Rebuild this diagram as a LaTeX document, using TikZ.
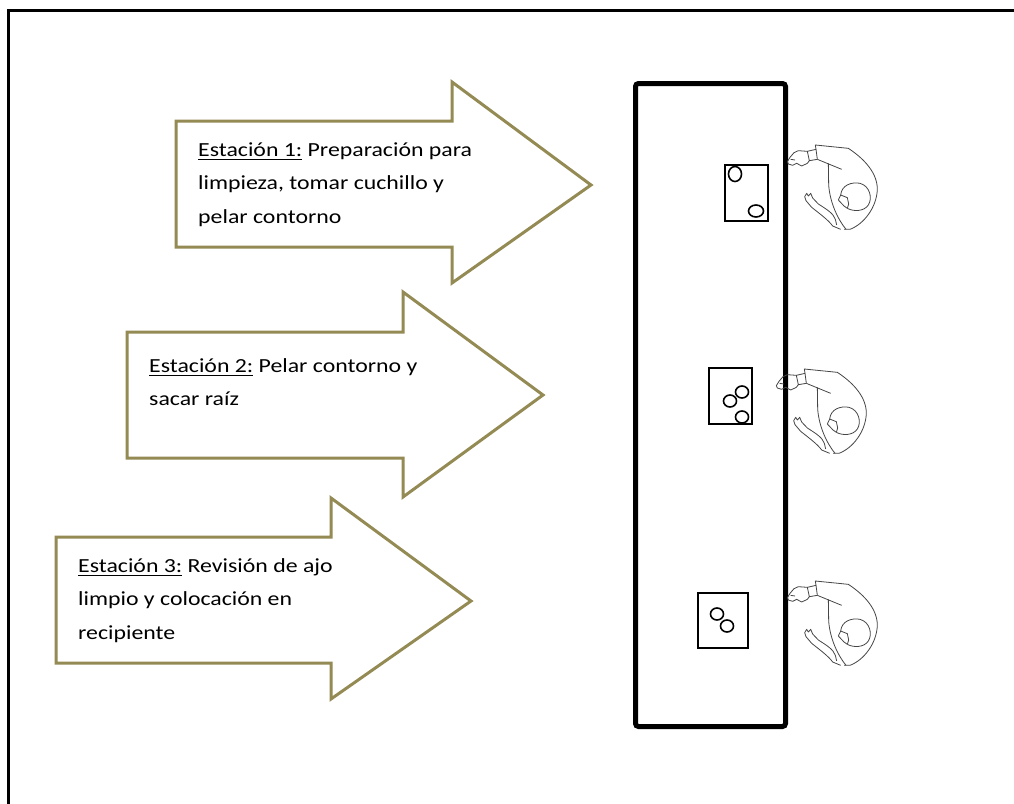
\documentclass[tikz,border=0pt]{standalone}
\usepackage{fontspec}
\setmainfont{Carlito}[FakeStretch=1.19]
\definecolor{olivedark}{RGB}{148,138,84}
\definecolor{sketchline}{RGB}{70,70,70}
% underline for the station label, set just below the baseline
\newcommand\stationtag[1]{\setbox0\hbox{#1}\rlap{\vrule width\wd0 height -2.6pt depth 4.1pt}\box0}
% stack of lines whose reference point is the first baseline
\newcommand\textlines[1]{\vtop{\baselineskip=33.5pt \lineskiplimit=-100pt #1}}
\tikzset{
  flowarrow/.style={draw=olivedark, fill=white, line width=3pt, miter limit=10},
  stationtext/.style={anchor=base west, inner sep=0pt,
    font=\fontsize{20}{33.5}\selectfont},
  tray/.style={draw=black, line width=1.8pt},
  clove/.style={draw=black, line width=1.6pt},
  person/.pic={
    \begin{scope}[scale=1/3, draw=sketchline, line width=0.8pt, line join=round]
      % hand resting on the table edge
      \draw (112,64) -- (85,62) -- (72,68) -- (60,82) -- (52,95) -- (55,102)
            -- (68,106) -- (80,100) -- (95,108) -- (112,100) -- (118,92);
      \draw (62,88) -- (75,90);
      % cuff
      \draw (112,64) -- (138,58) -- (142,88) -- (118,92) -- cycle;
      % sleeve and back
      \draw (138,58) -- (136,45) -- (235,55)
            .. controls (285,88) and (322,130) .. (322,178)
            .. controls (320,232) and (282,282) .. (240,298) -- (222,298);
      \draw (142,88) -- (215,118);
      \draw (175,100) -- (176,165) .. controls (180,220) and (205,270) .. (228,298);
      % head
      \draw (212,195) .. controls (215,165) and (245,155) .. (270,160)
            .. controls (300,168) and (308,205) .. (295,225)
            .. controls (282,245) and (250,245) .. (232,235);
      \draw (212,195) -- (232,203) -- (236,222) -- (232,235);
      \draw (212,195) -- (205,210) -- (222,228) -- (232,235);
      % second arm folded in front
      \draw (108,212) -- (104,200) -- (110,190) -- (115,198) -- (122,190) -- (128,204);
      \draw (108,212) -- (125,232) .. controls (150,252) and (175,270) .. (188,288) -- (212,298);
      \draw (128,204) -- (145,222) .. controls (170,238) and (190,250) .. (196,268) -- (200,285);
    \end{scope}
  }
}
\begin{document}
\begin{tikzpicture}[x=1pt, y=-1pt]
  \useasboundingbox (0,0) rectangle (1014,803);
  \clip (0,0) rectangle (1014,803);
  \fill[white] (0,0) rectangle (1014,803);

  % page frame, running off the right and bottom edges
  \draw[line width=3pt] (8,830) -- (8,10) -- (1040,10);

  % station arrows
  \draw[flowarrow] (176,121) -- (452,121) -- (452,82) -- (591,185)
        -- (452,283) -- (452,247) -- (176,247) -- cycle;
  \draw[flowarrow] (127,332) -- (403,332) -- (403,292) -- (543,395)
        -- (403,497) -- (403,458) -- (127,458) -- cycle;
  \draw[flowarrow] (56,537) -- (331,537) -- (331,498) -- (471,601)
        -- (331,699) -- (331,663) -- (56,663) -- cycle;

  \node[stationtext] (s1) at (198,156) {\textlines{%
    \hbox{\stationtag{Estación 1:}\ Preparación para}
    \hbox{limpieza, tomar cuchillo y}
    \hbox{pelar contorno}}};
  \node[stationtext] (s2) at (149,372) {\textlines{%
    \hbox{\stationtag{Estación 2:}\ Pelar contorno y}
    \hbox{sacar raíz}}};
  \node[stationtext] (s3) at (78,572) {\textlines{%
    \hbox{\stationtag{Estación 3:}\ Revisión de ajo}
    \hbox{limpio y colocación en}
    \hbox{recipiente}}};

  % work table
  \draw[line width=5pt, rounded corners=3pt] (635.5,83.5) rectangle (785.5,726.5);

  % trays with garlic cloves
  \draw[tray] (725,165) rectangle (768,221);
  \draw[clove] (735,174) ellipse (6.5 and 7.5);
  \draw[clove] (756,211) ellipse (7.5 and 6);

  \draw[tray] (709,368) rectangle (752,424);
  \draw[clove] (730,401) ellipse (6.5 and 6);
  \draw[clove] (742,392) ellipse (6.5 and 6);
  \draw[clove] (742,417) ellipse (6.5 and 6);

  \draw[tray] (698,593) rectangle (748,648);
  \draw[clove] (717,614) ellipse (6.5 and 6);
  \draw[clove] (727,626) ellipse (6.5 and 6);

  % workers
  \pic (w1) at (770,130) {person};
  \pic (w2) at (759,354) {person};
  \pic (w3) at (770,566) {person};
\end{tikzpicture}
\end{document}
